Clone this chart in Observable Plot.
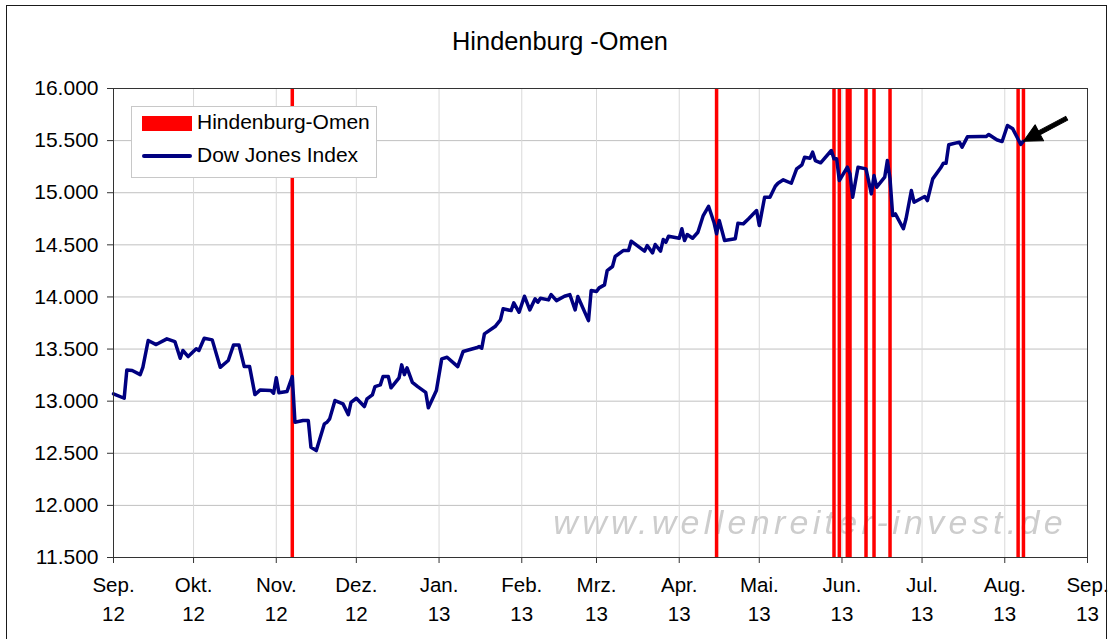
<!DOCTYPE html>
<html>
<head>
<meta charset="utf-8">
<script src="https://cdn.jsdelivr.net/npm/d3@7"></script>
<script src="https://cdn.jsdelivr.net/npm/@observablehq/plot@0.6"></script>
<style>
html, body { margin: 0; padding: 0; background: #fff; overflow: hidden; }
#wrap { position: relative; width: 1110px; height: 639px; font-family: "Liberation Sans", Arial, sans-serif; color: #000; overflow: hidden; }
#border { position: absolute; left: 6px; top: 5px; width: 1101px; height: 700px; border: 1px solid #1a1a1a; box-sizing: border-box; z-index: 5; pointer-events: none; }
#title { position: absolute; left: 0; top: 29px; width: 1120px; text-align: center; font-size: 25.4px; line-height: 25px; z-index: 4; }
#wm { position: absolute; right: 43px; top: 505px; font-size: 34px; line-height: 34px; font-style: italic; letter-spacing: 4.3px; color: #cdcdcd; z-index: 1; white-space: nowrap; filter: blur(0.5px); }
#chart { position: absolute; left: 0; top: 0; z-index: 2; }
#legend { position: absolute; left: 131px; top: 106px; width: 246px; height: 72px; border: 1px solid #c8c8c8; background: #fff; box-sizing: border-box; z-index: 3; }
#legend .sw { position: absolute; left: 10px; width: 50px; }
#legend .txt { position: absolute; left: 65px; font-size: 21px; line-height: 21px; white-space: nowrap; }
</style>
</head>
<body>
<div id="wrap">
  <div id="wm">www.wellenreiter-invest.de</div>
  <div id="chart"></div>
  <div id="title"></div>
  <div id="legend"></div>
  <div id="border"></div>
</div>
<script>
// ---------- data ----------
const titleText = "Hindenburg -Omen";
const seriesNames = ["Hindenburg-Omen", "Dow Jones Index"];
const startDate = "2012-09-01";   // day offsets below are counted from this date
const endDate = "2013-09-01";

// Dow Jones Index: day offset from startDate and index value
const dayOffsets = [
  0, 4, 5, 7, 10, 11, 13, 16, 20, 23, 25, 26, 28, 31, 32, 34, 37, 40, 43, 45,
  47, 49, 51, 53, 55, 59, 60, 61, 62, 65, 67, 68, 71, 73, 74, 76, 79, 80, 81, 83,
  86, 88, 89, 91, 94, 95, 97, 98, 100, 101, 103, 104, 107, 108, 109, 110, 112, 114, 117, 118,
  121, 123, 125, 129, 131, 136, 137, 138, 139, 143, 145, 146, 149, 150, 152, 154, 156, 158, 159, 160,
  163, 164, 166, 169, 171, 173, 174, 178, 179, 181, 182, 184, 185, 187, 188, 191, 193, 194, 199, 200,
  202, 203, 205, 206, 207, 208, 212, 213, 214, 215, 217, 219, 221, 223, 225, 226, 227, 229, 233, 234,
  236, 238, 241, 242, 244, 246, 248, 249, 251, 254, 256, 258, 259, 261, 262, 263, 265, 269, 270, 271,
  272, 275, 276, 277, 279, 282, 284, 285, 286, 289, 290, 291, 292, 293, 296, 297, 299, 300, 304, 305,
  307, 310, 311, 312, 313, 317, 318, 320, 325, 327, 328, 331, 333, 335, 337, 340, 341
];
const dowValues = [
  13070, 13028, 13300, 13294, 13255, 13325, 13582, 13543, 13598, 13572, 13412, 13486, 13428, 13502, 13486, 13604, 13588, 13325, 13390, 13540,
  13540, 13332, 13332, 13063, 13108, 13102, 13076, 13224, 13080, 13092, 13236, 12798, 12814, 12814, 12558, 12526, 12782, 12798, 12830, 13006,
  12974, 12871, 12989, 13028, 12948, 13022, 13060, 13140, 13156, 13236, 13236, 13128, 13224, 13348, 13255, 13320, 13181, 13140, 13085, 12936,
  13102, 13406, 13421, 13332, 13476, 13512, 13524, 13508, 13646, 13716, 13780, 13886, 13869, 13943, 13853, 14007, 13876, 13982, 13949, 13988,
  13972, 14023, 13965, 14007, 14023, 13876, 14004, 13773, 14061, 14052, 14087, 14116, 14253, 14292, 14388, 14445, 14445, 14535, 14439, 14493,
  14423, 14503, 14439, 14551, 14525, 14583, 14563, 14654, 14541, 14599, 14563, 14621, 14781, 14870, 14717, 14606, 14733, 14541, 14558, 14707,
  14701, 14750, 14829, 14685, 14957, 14957, 15062, 15091, 15124, 15091, 15229, 15268, 15341, 15331, 15389, 15309, 15287, 15405, 15325, 15325,
  15117, 15245, 15181, 14957, 15245, 15229, 14989, 15165, 15053, 15149, 15309, 15133, 14781, 14797, 14654, 14750, 15021, 14909, 14964, 14925,
  15133, 15239, 15283, 15283, 15460, 15485, 15437, 15536, 15539, 15539, 15559, 15508, 15491, 15645, 15613, 15463, 15494
];

// Hindenburg-Omen signal days (day offsets from startDate)
const omenDayOffsets = [67, 226, 270, 272, 275, 276, 282, 285, 291, 339, 341];

// Axis ticks
const yTicks = [11500, 12000, 12500, 13000, 13500, 14000, 14500, 15000, 15500, 16000];
const monthLabels = ["Sep.", "Okt.", "Nov.", "Dez.", "Jan.", "Feb.", "Mrz.", "Apr.", "Mai.", "Jun.", "Jul.", "Aug.", "Sep."];
const yearLabels = ["12", "12", "12", "12", "13", "13", "13", "13", "13", "13", "13", "13", "13"];
const watermark = "www.wellenreiter-invest.de";

// ---------- build ----------
const start = new Date(startDate + "T00:00:00Z");
const end = new Date(endDate + "T00:00:00Z");
const toDate = d => d3.utcDay.offset(start, d);
const dow = dayOffsets.map((d, i) => ({date: toDate(d), value: dowValues[i]}));
const omen = omenDayOffsets.map(d => ({date: toDate(d)}));
const monthTicks = d3.utcMonth.range(start, d3.utcDay.offset(end, 1));
const de = d3.formatLocale({decimal: ",", thousands: ".", grouping: [3], currency: ["", "€"]});
const fmtY = de.format(",.0f");
const xLabel = d => {
  const i = monthTicks.findIndex(t => +t === +d);
  return i < 0 ? "" : monthLabels[i] + "\n" + yearLabels[i];
};

const arrowShape = {
  draw(ctx, l) {
    const hl = 18, hw = 9, sw = 2.1;
    ctx.moveTo(0, 0);
    ctx.lineTo(hw, -hl);
    ctx.lineTo(sw, -hl);
    ctx.lineTo(sw, -l);
    ctx.lineTo(-sw, -l);
    ctx.lineTo(-sw, -hl);
    ctx.lineTo(-hw, -hl);
    ctx.closePath();
  }
};

const chart = Plot.plot({
  width: 1110,
  height: 639,
  marginLeft: 113,
  marginRight: 23,
  marginTop: 88,
  marginBottom: 82,
  style: {background: "transparent", fontFamily: "'Liberation Sans', Arial, sans-serif", color: "#000", overflow: "visible"},
  x: {type: "utc", domain: [start, end], label: null},
  y: {domain: [11500, 16000], label: null},
  marks: [
    Plot.gridY(yTicks, {stroke: "#c0c0c0", strokeOpacity: 1}),
    Plot.gridX(monthTicks, {stroke: "#d9d9d9", strokeOpacity: 1}),
    Plot.ruleX(omen, {x: "date", stroke: "#ff0000", strokeWidth: 3.5}),
    Plot.line(dow, {x: "date", y: "value", stroke: "#000080", strokeWidth: 3.5, strokeLinejoin: "round", curve: "linear"}),
    Plot.vector([dow[dow.length - 1]], {x: "date", y: "value", anchor: "start", rotate: 62, length: 49, shape: arrowShape, stroke: "#000", fill: "#000", strokeWidth: 1}),
    Plot.frame({stroke: "#333"}),
    Plot.axisY(yTicks, {tickSize: 6, tickPadding: 9, tickFormat: fmtY, fontSize: 21, stroke: "#333"}),
    Plot.axisX(monthTicks, {tickSize: 6, tickPadding: 7, tickFormat: xLabel, fontSize: 20.5, lineHeight: 1.45, stroke: "#333"})
  ]
});
document.getElementById("chart").appendChild(chart);

document.getElementById("title").textContent = titleText;
document.getElementById("wm").textContent = watermark;

const legend = document.getElementById("legend");
legend.innerHTML =
  `<div class="sw" style="top:9px;height:15px;background:#ff0000"></div>` +
  `<div class="txt" style="top:4px">${seriesNames[0]}</div>` +
  `<div class="sw" style="top:47px;height:3.6px;background:#000080;border-radius:2px"></div>` +
  `<div class="txt" style="top:37px">${seriesNames[1]}</div>`;
</script>
</body>
</html>
